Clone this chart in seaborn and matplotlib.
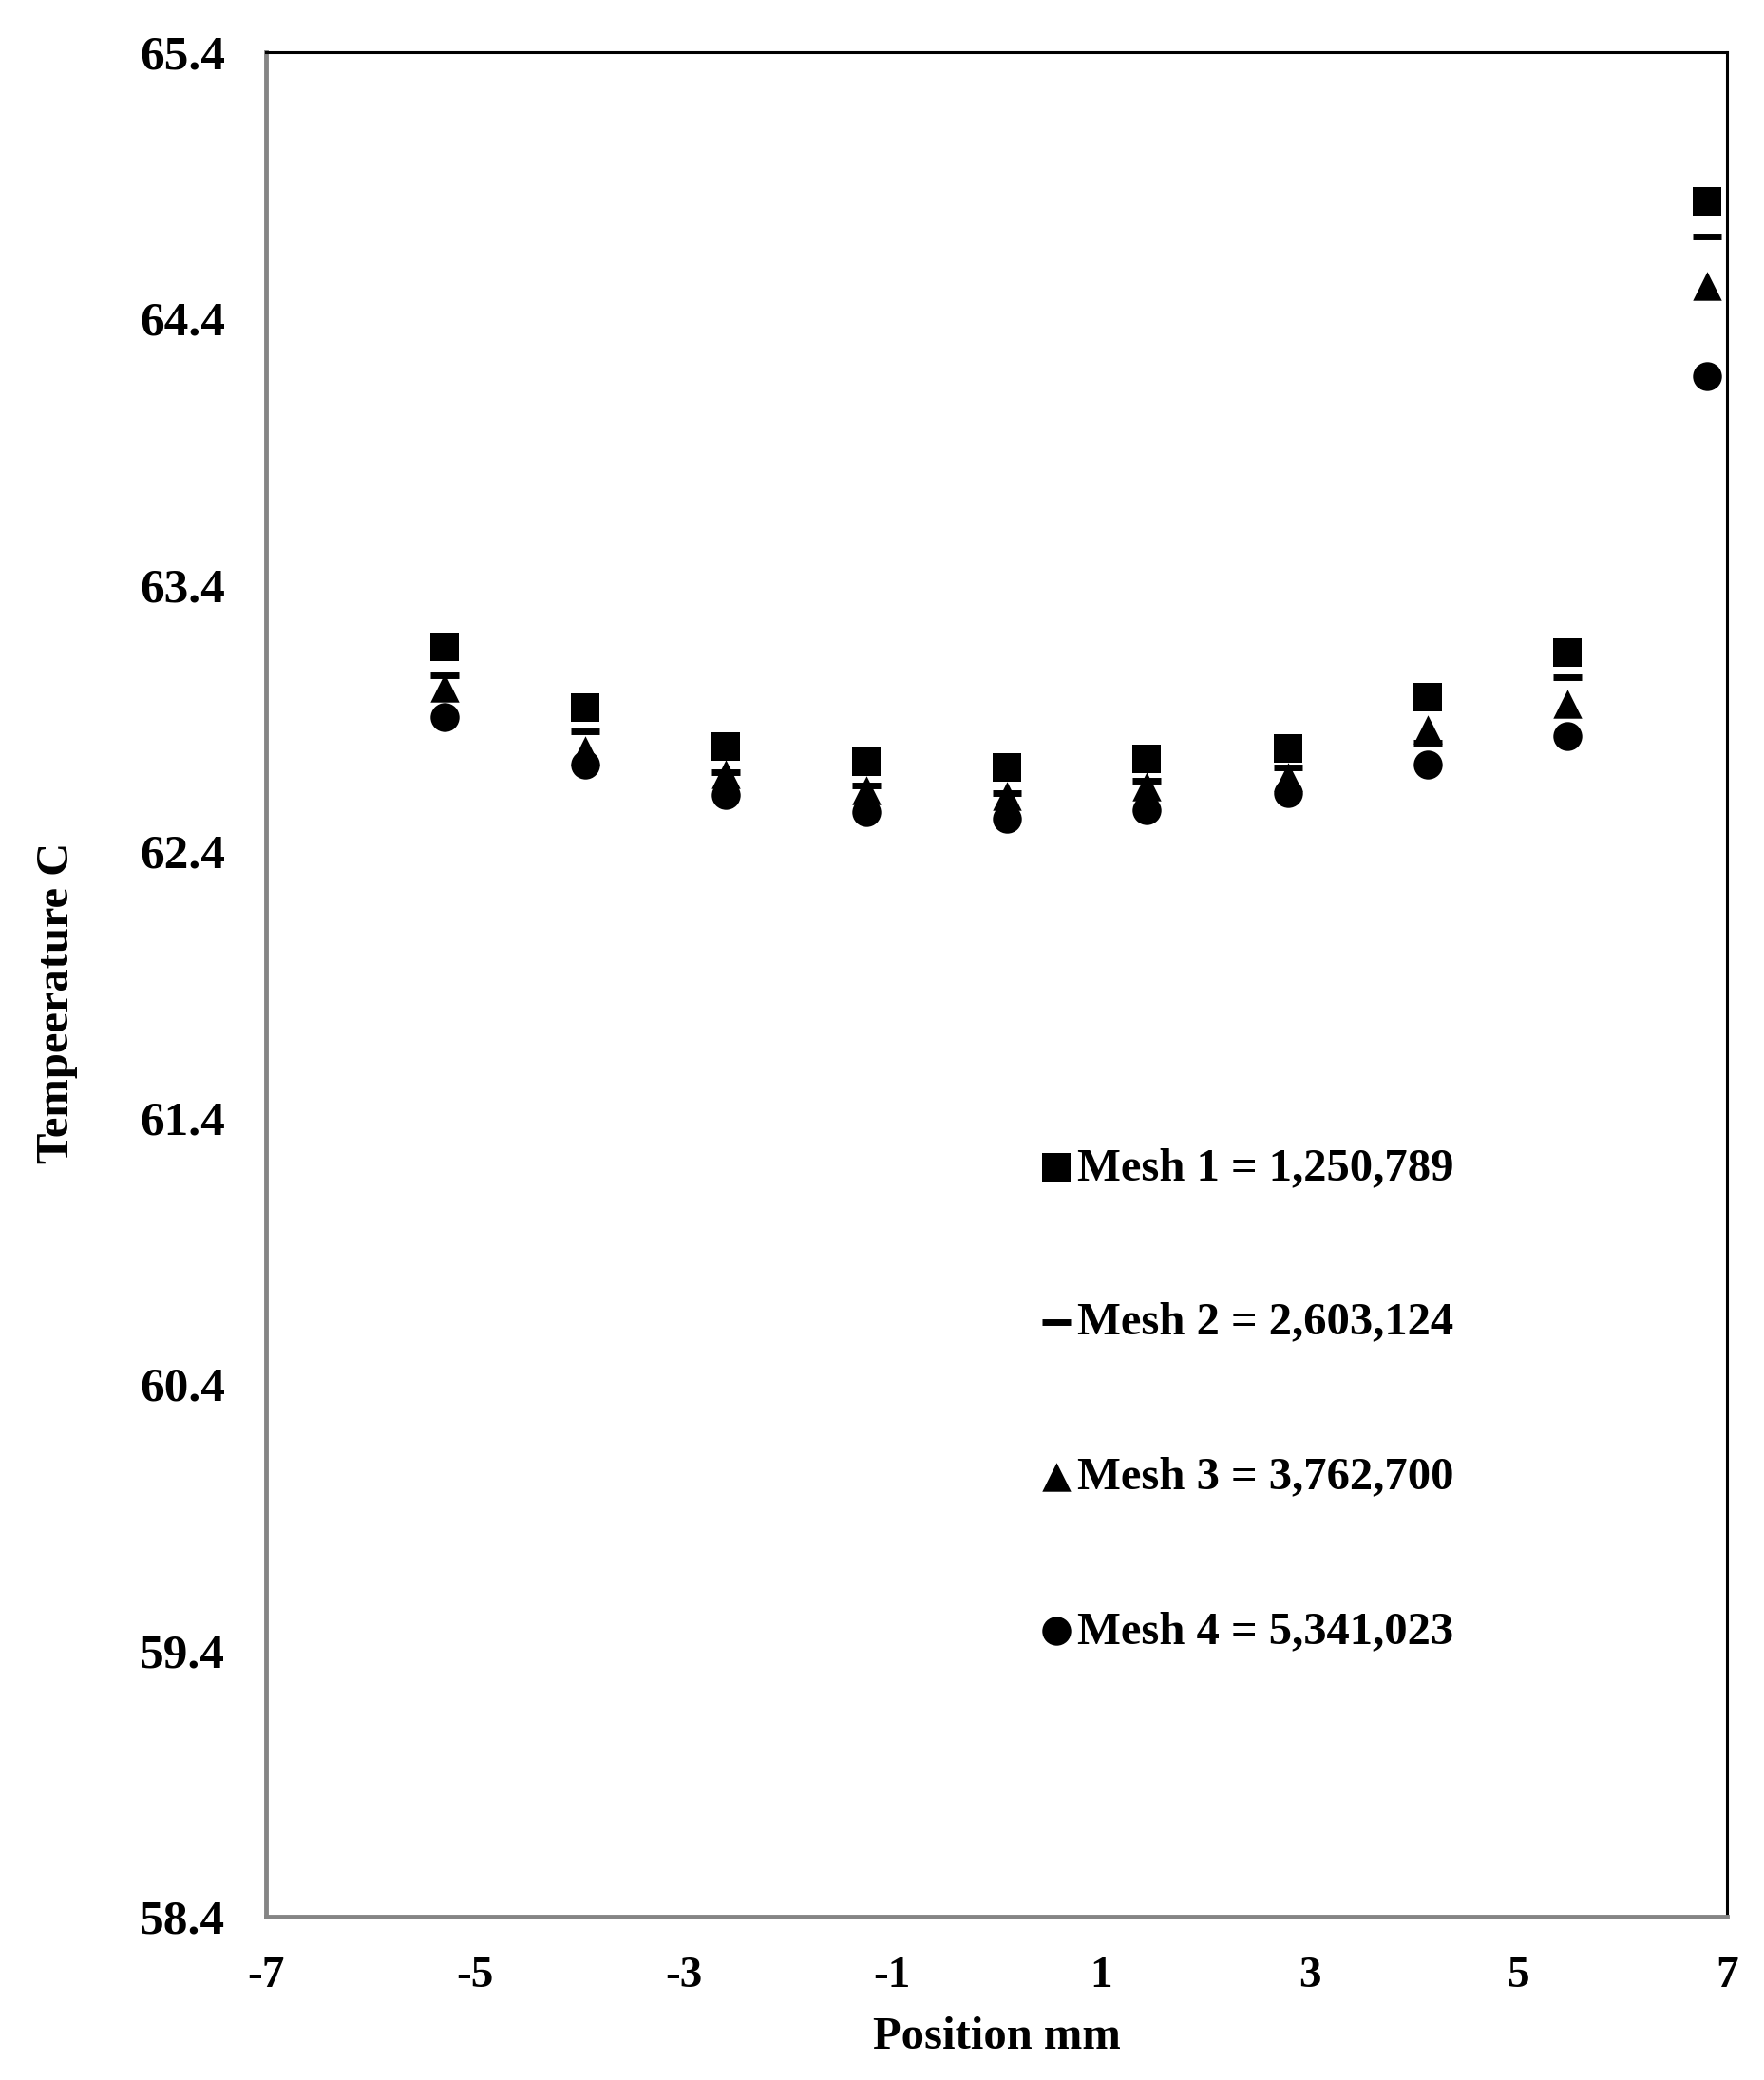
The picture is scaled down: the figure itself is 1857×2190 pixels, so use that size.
import numpy as np
import pandas as pd
import seaborn as sns
import matplotlib.pyplot as plt

# =================================================================
# 1. Data
# =================================================================
position = [-5.29, -3.94, -2.60, -1.25, 0.10, 1.44, 2.79, 4.13, 5.47, 6.81]

mesh1 = [63.169, 62.939, 62.794, 62.737, 62.716, 62.747, 62.787, 62.977, 63.145, 64.839]
mesh2 = [63.060, 62.850, 62.696, 62.647, 62.618, 62.666, 62.715, 62.808, 63.052, 64.708]
mesh3 = [63.016, 62.779, 62.690, 62.629, 62.608, 62.643, 62.680, 62.856, 62.955, 64.523]
mesh4 = [62.904, 62.725, 62.611, 62.547, 62.523, 62.553, 62.618, 62.725, 62.833, 64.184]

labels = ["Mesh 1 = 1,250,789", "Mesh 2 = 2,603,124",
          "Mesh 3 = 3,762,700", "Mesh 4 = 5,341,023"]
markers = ["s", "_", "^", "o"]

xticks = [-7, -5, -3, -1, 1, 3, 5, 7]
xtick_labels = ["-7", "-5", "-3", "-1", "1", "3", "5", "7"]
yticks = [58.4, 59.4, 60.4, 61.4, 62.4, 63.4, 64.4, 65.4]
ytick_labels = ["58.4", "59.4", "60.4", "61.4", "62.4", "63.4", "64.4", "65.4"]

df = pd.DataFrame({
    "position": position * 4,
    "temperature": mesh1 + mesh2 + mesh3 + mesh4,
    "mesh": sum([[lab] * len(position) for lab in labels], []),
})

# =================================================================
# 2. Plotting
# =================================================================
sns.set_theme(style="white")
plt.rcParams["font.family"] = ["Liberation Serif", "DejaVu Serif"]
plt.rcParams["font.weight"] = "bold"
for key in ["text.color", "axes.labelcolor", "xtick.color", "ytick.color"]:
    plt.rcParams[key] = "black"

fig = plt.figure(figsize=(18.57, 21.9), dpi=100)
ax = fig.add_axes([0.1508, 0.0785, 0.8284, 0.8964])

for lab, m in zip(labels, markers):
    sub = df[df["mesh"] == lab]
    if m == "_":
        sns.scatterplot(data=sub, x="position", y="temperature", marker=m,
                        s=480, color="black", linewidth=5, ax=ax, label=lab)
    else:
        sns.scatterplot(data=sub, x="position", y="temperature", marker=m,
                        s=480, color="black", edgecolor="black", linewidth=0,
                        ax=ax, label=lab)

ax.set_xlim(-7, 7)
ax.set_ylim(58.4, 65.4)
ax.set_xticks(xticks, xtick_labels)
ax.set_yticks(yticks, ytick_labels)
ax.tick_params(axis="both", length=0)
ax.tick_params(axis="x", pad=30, labelsize=34)
ax.tick_params(axis="y", pad=31, labelsize=37)
for t in ax.get_xticklabels() + ax.get_yticklabels():
    t.set_fontweight("bold")

ax.set_xlabel("Position mm", fontsize=35, fontweight="bold")
ax.set_ylabel("Tempeerature C", fontsize=35, fontweight="bold")
ax.xaxis.set_label_coords(0.5, -0.0535)
ax.yaxis.set_label_coords(-0.129, 0.49)

for side in ["left", "bottom"]:
    ax.spines[side].set_color("#858585")
    ax.spines[side].set_linewidth(3.5)
for side in ["top", "right"]:
    ax.spines[side].set_color("black")
    ax.spines[side].set_linewidth(2.2)

ax.legend(loc="upper left", bbox_to_anchor=(0.5127, 0.425), frameon=False,
          prop={"family": "Liberation Serif", "weight": "bold", "size": 35},
          labelspacing=2.44, handletextpad=0.05, handlelength=0.8,
          borderpad=0, markerscale=1)

fig.savefig("out.png", dpi=100)
